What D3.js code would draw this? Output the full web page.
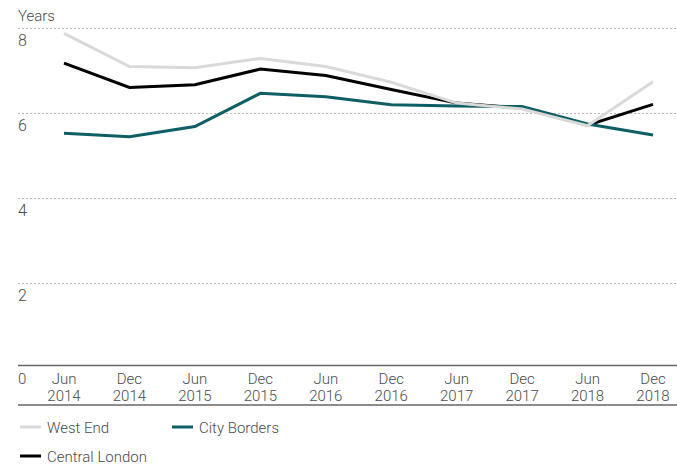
<!DOCTYPE html>
<html>
<head>
<meta charset="utf-8">
<script src="https://cdn.jsdelivr.net/npm/d3@7"></script>
<style>
  html, body { margin: 0; padding: 0; background: #fff; }
  svg text { font-family: Roboto, "Liberation Sans", sans-serif; font-weight: 300; fill: #4a4a4a; }
</style>
</head>
<body>
<svg id="chart" width="677" height="471"></svg>
<script>
// Periods on the x axis (two-line labels)
const periods = ["Jun 2014", "Dec 2014", "Jun 2015", "Dec 2015", "Jun 2016",
                 "Dec 2016", "Jun 2017", "Dec 2017", "Jun 2018", "Dec 2018"];

// Average lease length, years
const westEnd       = [7.88, 7.10, 7.07, 7.29, 7.10, 6.73, 6.24, 6.10, 5.71, 6.74];
const centralLondon = [7.18, 6.61, 6.67, 7.04, 6.89, 6.56, 6.24, 6.12, 5.72, 6.21];
const cityBorders   = [5.53, 5.45, 5.69, 6.47, 6.39, 6.20, 6.17, 6.16, 5.75, 5.49];

const yTicks = [2, 4, 6, 8];

const series = [
  { name: "West End",       values: westEnd,       color: "#d9d9d9", z: 2 },
  { name: "City Borders",   values: cityBorders,   color: "#0e5e65", z: 1 },
  { name: "Central London", values: centralLondon, color: "#000000", z: 0 }
];

const svg = d3.select("#chart");
const left = 18, right = 677;

const x = d3.scalePoint().domain(periods).range([64, 653]);
const y = d3.scaleLinear().domain([0, 8]).range([368.3, 28.3]);

// Dotted gridlines with labels below them
const grid = svg.append("g");
grid.selectAll("line").data(yTicks).join("line")
  .attr("x1", left).attr("x2", right)
  .attr("y1", d => Math.round(y(d)) + 0.5).attr("y2", d => Math.round(y(d)) + 0.5)
  .attr("stroke", "#b5b5b5").attr("stroke-width", 1)
  .attr("stroke-dasharray", "2,2");
grid.selectAll("text").data(yTicks).join("text")
  .attr("x", left).attr("y", d => y(d) + 18)
  .attr("font-size", 16)
  .text(d => d);

svg.append("text").attr("x", left).attr("y", 21).attr("font-size", 15).text("Years");

// Axis band: rule above and below the period labels
svg.append("line").attr("x1", left).attr("x2", right).attr("y1", 365.5).attr("y2", 365.5)
  .attr("stroke", "#666").attr("stroke-width", 1.5);
svg.append("line").attr("x1", left).attr("x2", right).attr("y1", 405).attr("y2", 405)
  .attr("stroke", "#666").attr("stroke-width", 1.5);
svg.append("text").attr("x", left).attr("y", 384).attr("font-size", 15).text("0");

const xg = svg.append("g");
xg.selectAll("text.m").data(periods).join("text").attr("class", "m")
  .attr("x", d => x(d)).attr("y", 384).attr("text-anchor", "middle").attr("font-size", 15)
  .text(d => d.split(" ")[0]);
xg.selectAll("text.yr").data(periods).join("text").attr("class", "yr")
  .attr("x", d => x(d)).attr("y", 401).attr("text-anchor", "middle").attr("font-size", 15)
  .text(d => d.split(" ")[1]);

// Lines (black underneath, West End on top)
const line = d3.line().x((d, i) => x(periods[i])).y(d => y(d));
svg.append("g").selectAll("path").data(series.slice().sort((a, b) => a.z - b.z)).join("path")
  .attr("d", d => line(d.values))
  .attr("fill", "none")
  .attr("stroke", d => d.color)
  .attr("stroke-width", 3)
  .attr("stroke-linejoin", "miter");

// Legend
const legendPos = [[20, 427], [172, 427], [20, 456]];
const lg = svg.append("g").selectAll("g").data(series).join("g")
  .attr("transform", (d, i) => `translate(${legendPos[i][0]},${legendPos[i][1]})`);
lg.append("line").attr("x1", 0).attr("x2", 21).attr("y1", 0).attr("y2", 0)
  .attr("stroke", d => d.color).attr("stroke-width", 3);
lg.append("text").attr("x", 27).attr("y", 5.5).attr("font-size", 15).text(d => d.name);
</script>
</body>
</html>
